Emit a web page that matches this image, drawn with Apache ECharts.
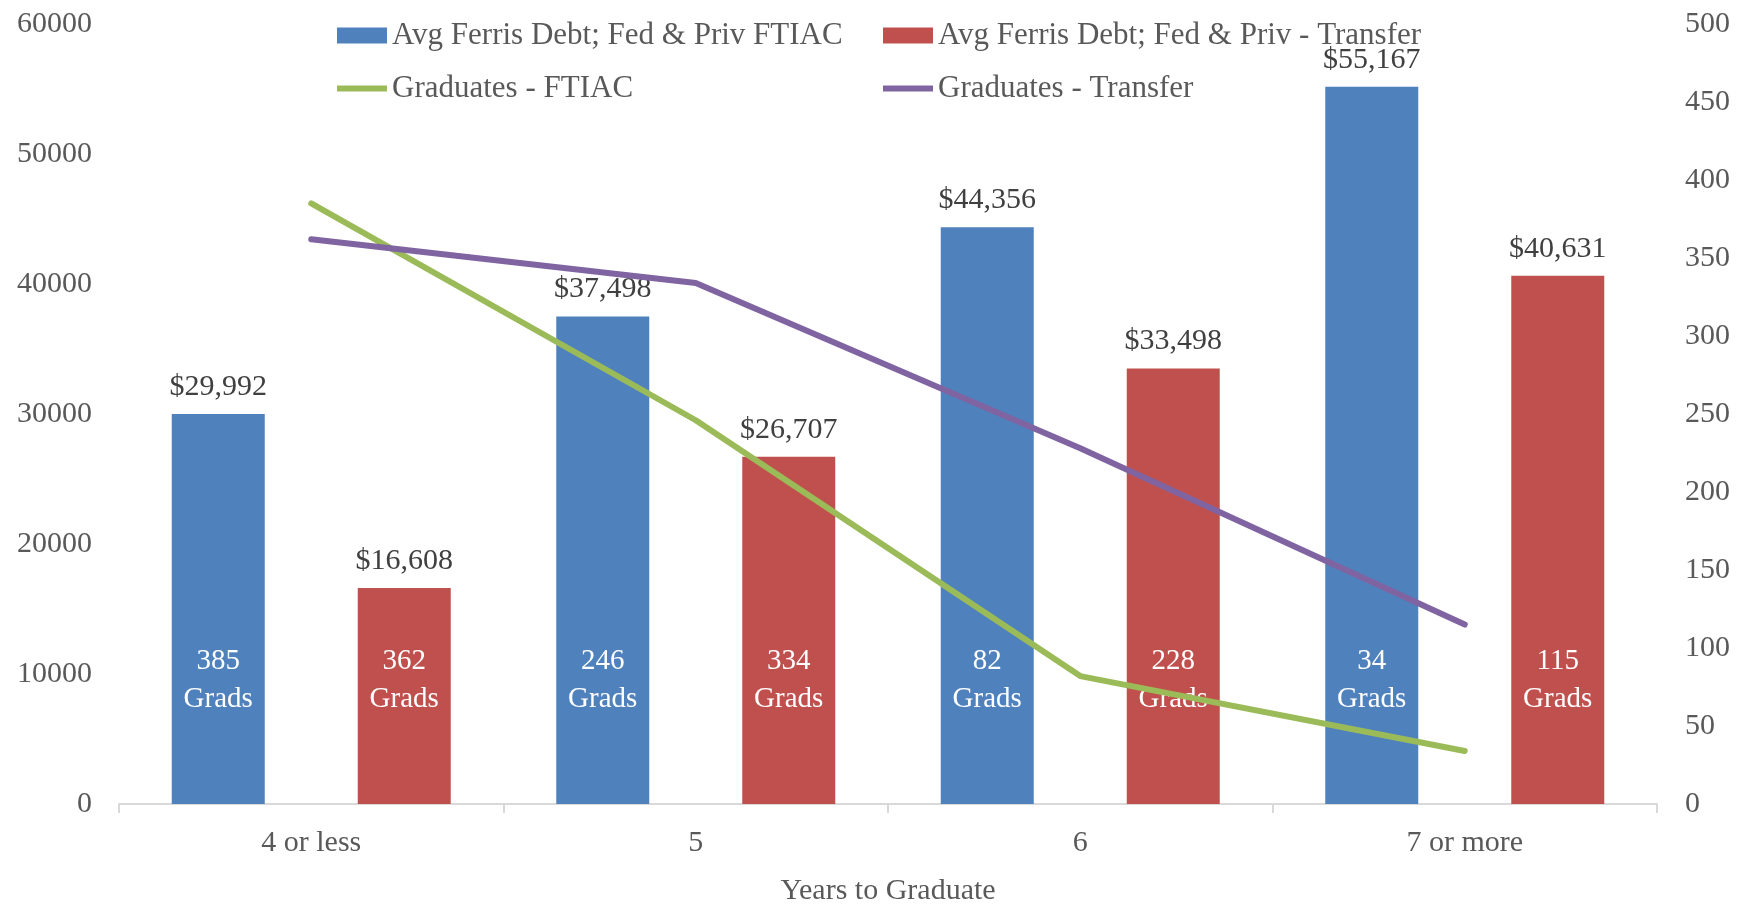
<!DOCTYPE html>
<html>
<head>
<meta charset="utf-8">
<title>Years to Graduate</title>
<script src="https://cdn.jsdelivr.net/npm/echarts@6/dist/echarts.min.js"></script>
<style>
  html, body { margin: 0; padding: 0; background: #fff; }
  #chart { width: 1750px; height: 906px; }
</style>
</head>
<body>
<div id="chart"></div>
<script>
const categories = ["4 or less", "5", "6", "7 or more"];
const debtFtiac = [29992, 37498, 44356, 55167];
const debtTransfer = [16608, 26707, 33498, 40631];
const gradsFtiac = [385, 246, 82, 34];
const gradsTransfer = [362, 334, 228, 115];
const zeroBase = [0, 0, 0, 0]; // helper bars, only carry the "Grads" labels

const FONT = "Liberation Serif";
const AXIS_GREY = "#595959";

function money(v) {
  return "$" + v.toLocaleString("en-US");
}

const chart = echarts.init(document.getElementById("chart"));

const gradsLabel = (counts) => ({
  show: true,
  position: "top",
  distance: 86,
  color: "#fff",
  fontFamily: FONT,
  fontSize: 29,
  lineHeight: 38,
  formatter: (p) => counts[p.dataIndex] + "\nGrads",
});

const valueLabel = {
  show: true,
  position: "top",
  distance: 12,
  color: "#404040",
  fontFamily: FONT,
  fontSize: 30,
  formatter: (p) => money(p.value),
};

const legendText = { color: AXIS_GREY, fontFamily: FONT, fontSize: 31 };

// one legend per item so the two columns line up like the original
function legendItem(name, left, top, height) {
  return {
    left: left,
    top: top,
    itemWidth: 50,
    itemHeight: height,
    textStyle: legendText,
    data: [{ name: name, icon: "rect" }],
  };
}

chart.setOption({
  animation: false,
  grid: {
    left: 119,
    right: 93,
    top: 24,
    bottom: 102,
    containLabel: false,
    outerBoundsMode: "none",
  },
  legend: [
    legendItem("Avg Ferris Debt; Fed & Priv FTIAC", 332, 15, 16),
    legendItem("Avg Ferris Debt; Fed & Priv - Transfer", 878, 15, 16),
    legendItem("Graduates - FTIAC", 332, 68, 6),
    legendItem("Graduates - Transfer", 878, 68, 6),
  ],
  xAxis: {
    type: "category",
    data: categories,
    name: "Years to Graduate",
    nameLocation: "middle",
    nameGap: 72,
    nameTextStyle: { color: AXIS_GREY, fontFamily: FONT, fontSize: 30 },
    axisLine: { lineStyle: { color: "#d9d9d9", width: 2 } },
    axisTick: { show: true, length: 9, lineStyle: { color: "#d9d9d9", width: 2 } },
    axisLabel: { color: AXIS_GREY, fontFamily: FONT, fontSize: 30, margin: 24 },
  },
  yAxis: [
    {
      type: "value",
      min: 0,
      max: 60000,
      interval: 10000,
      axisLine: { show: false },
      axisTick: { show: false },
      splitLine: { show: false },
      axisLabel: {
        color: AXIS_GREY,
        fontFamily: FONT,
        fontSize: 30,
        margin: 27,
        formatter: (v) => String(v),
      },
    },
    {
      type: "value",
      min: 0,
      max: 500,
      interval: 50,
      axisLine: { show: false },
      axisTick: { show: false },
      splitLine: { show: false },
      axisLabel: { color: AXIS_GREY, fontFamily: FONT, fontSize: 30, margin: 28 },
    },
  ],
  series: [
    {
      name: "ftiacGrads",
      type: "bar",
      stack: "ftiac",
      data: zeroBase,
      barWidth: 93,
      itemStyle: { color: "#4F81BD" },
      label: gradsLabel(gradsFtiac),
      z: 3,
    },
    {
      name: "Avg Ferris Debt; Fed & Priv FTIAC",
      type: "bar",
      stack: "ftiac",
      data: debtFtiac,
      barWidth: 93,
      itemStyle: { color: "#4F81BD" },
      label: valueLabel,
      z: 2,
    },
    {
      name: "transferGrads",
      type: "bar",
      stack: "transfer",
      data: zeroBase,
      barWidth: 93,
      itemStyle: { color: "#C0504D" },
      label: gradsLabel(gradsTransfer),
      z: 3,
    },
    {
      name: "Avg Ferris Debt; Fed & Priv - Transfer",
      type: "bar",
      stack: "transfer",
      data: debtTransfer,
      barWidth: 93,
      barGap: "100%",
      itemStyle: { color: "#C0504D" },
      label: valueLabel,
      z: 2,
    },
    {
      name: "Graduates - FTIAC",
      type: "line",
      yAxisIndex: 1,
      data: gradsFtiac,
      symbol: "none",
      lineStyle: { color: "#9BBB59", width: 6, cap: "round", join: "round" },
      itemStyle: { color: "#9BBB59" },
      z: 5,
    },
    {
      name: "Graduates - Transfer",
      type: "line",
      yAxisIndex: 1,
      data: gradsTransfer,
      symbol: "none",
      lineStyle: { color: "#8064A2", width: 6, cap: "round", join: "round" },
      itemStyle: { color: "#8064A2" },
      z: 5,
    },
  ],
});
</script>
</body>
</html>
